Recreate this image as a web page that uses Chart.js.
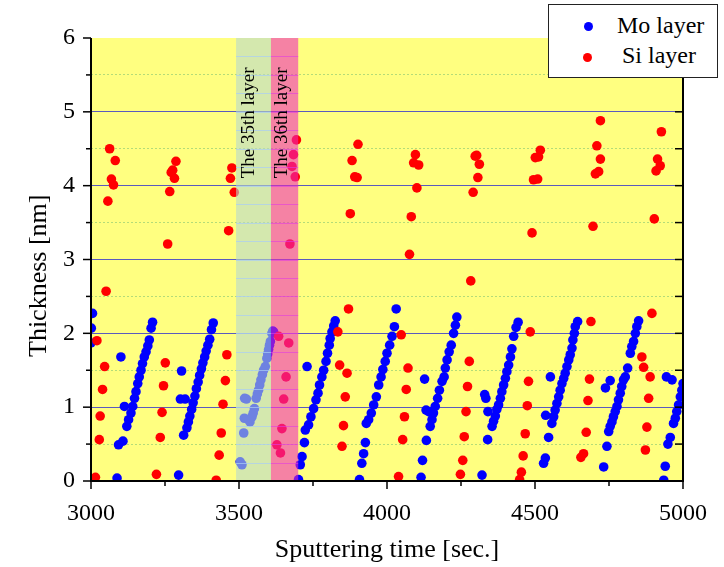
<!DOCTYPE html>
<html>
<head>
<meta charset="utf-8">
<script src="https://cdn.jsdelivr.net/npm/chart.js@4.4.0/dist/chart.umd.min.js"></script>
<style>
  body { margin: 0; background: #fff; }
  #wrap { position: relative; width: 724px; height: 567px; }
  .legend {
    position: absolute; left: 548px; top: 4px; width: 168px; height: 72px;
    border: 1px solid #222; background: #fff;
    font-family: "Liberation Serif", "Times New Roman", serif; font-size: 24px; color: #000;
  }
  .legend .dot { position: absolute; width: 9px; height: 9px; border-radius: 50%; }
  .legend .txt { position: absolute; line-height: 24px; white-space: nowrap; }
</style>
</head>
<body>
<div id="wrap">
  <canvas id="chart" width="724" height="567"></canvas>
  <div class="legend">
    <span class="dot" style="left:35px; top:17px; background:#0000ff;"></span>
    <span class="txt" style="left:68px; top:8px;">Mo layer</span>
    <span class="dot" style="left:34px; top:48px; background:#ff0000;"></span>
    <span class="txt" style="left:73px; top:38px;">Si layer</span>
  </div>
</div>
<script>
// Mo layer points (time [sec.], thickness [nm])
const moTime = [
  3000, 3001, 3005,
  3088, 3093, 3108, 3101, 3113,
  3121, 3127, 3135, 3141, 3147, 3152, 3158, 3163, 3169, 3174, 3180, 3186, 3192, 3197, 3203, 3208,
  3296, 3313, 3302, 3318, 3306,
  3324, 3329, 3334, 3340, 3345, 3351, 3356, 3362, 3367, 3373, 3378, 3384, 3389, 3395, 3401, 3407, 3413,
  3504, 3510, 3516, 3518, 3519, 3525, 3532, 3537, 3544, 3548, 3552, 3558, 3562, 3566, 3570, 3574,
  3579, 3583, 3589, 3594, 3597, 3600, 3603, 3606, 3611, 3614, 3617,
  3701, 3707, 3713, 3721, 3724, 3730,
  3735, 3743, 3752, 3760, 3767, 3772, 3780, 3786, 3794, 3799, 3805, 3808, 3814, 3820, 3825,
  3907, 3915, 3921, 3927, 3930,
  3938, 3947, 3955, 3964, 3972, 3980, 3986, 3994, 4000, 4009, 4017, 4025, 4031,
  4115, 4120, 4133, 4132, 4141, 4127,
  4146, 4152, 4157, 4163, 4171, 4177, 4186, 4193, 4197, 4203, 4210, 4217, 4225, 4231, 4236,
  4321, 4340, 4341, 4330, 4334,
  4355, 4360, 4366, 4371, 4377, 4383, 4388, 4394, 4400, 4405, 4411, 4417, 4422, 4428, 4436, 4443,
  4529, 4535, 4546, 4536, 4552,
  4557, 4563, 4568, 4574, 4580, 4585, 4591, 4597, 4602, 4608, 4614, 4619, 4625, 4628, 4633, 4636, 4644,
  4732, 4743, 4738, 4754,
  4749, 4754, 4760, 4765, 4771, 4777, 4782, 4788, 4793, 4799, 4805, 4813, 4822, 4827, 4833, 4839, 4844, 4850,
  4935, 4940, 4949, 4957, 4944, 4963,
  4968, 4974, 4979, 4985, 4991, 4996, 5000
];
const moThick = [
  1.87, 2.07, 2.27,
  0.04, 0.49, 0.54, 1.68, 1.01,
  0.74, 0.83, 0.92, 1.01, 1.12, 1.21, 1.32, 1.41, 1.50, 1.59, 1.68, 1.75, 1.83, 1.91, 2.07, 2.15,
  0.08, 0.62, 1.11, 1.11, 1.49,
  0.72, 0.80, 0.88, 0.97, 1.06, 1.15, 1.25, 1.34, 1.43, 1.52, 1.60, 1.68, 1.76, 1.84, 1.92, 2.05, 2.14,
  0.26, 0.22, 0.65, 0.85, 1.12, 1.11, 0.83, 0.80, 0.87, 0.92, 0.98, 1.12, 1.18, 1.23, 1.30, 1.37,
  1.44, 1.50, 1.55, 1.66, 1.72, 1.78, 1.84, 1.89, 2.00, 2.03, 2.02,
  0.02, 0.22, 0.33, 0.52, 0.69, 1.55,
  0.76, 0.87, 0.98, 1.10, 1.19, 1.30, 1.41, 1.50, 1.62, 1.73, 1.84, 1.93, 2.02, 2.10, 2.17,
  0.02, 0.24, 0.37, 0.52, 0.78,
  0.83, 0.92, 1.03, 1.14, 1.30, 1.41, 1.51, 1.62, 1.73, 1.84, 1.96, 2.09, 2.33,
  0.05, 0.28, 0.55, 0.96, 0.94, 1.38,
  0.74, 0.83, 0.92, 1.01, 1.12, 1.23, 1.35, 1.41, 1.53, 1.64, 1.75, 1.84, 2.00, 2.11, 2.22,
  0.08, 0.56, 0.94, 1.17, 1.12,
  0.74, 0.81, 0.88, 0.97, 1.03, 1.12, 1.21, 1.30, 1.39, 1.48, 1.57, 1.68, 1.79, 1.96, 2.08, 2.15,
  0.24, 0.31, 0.59, 0.89, 1.41,
  0.78, 0.87, 0.96, 1.05, 1.14, 1.23, 1.32, 1.39, 1.46, 1.55, 1.64, 1.71, 1.80, 1.91, 2.00, 2.09, 2.16,
  0.19, 0.47, 1.26, 1.36,
  0.67, 0.74, 0.80, 0.87, 0.94, 1.01, 1.10, 1.19, 1.28, 1.37, 1.41, 1.53, 1.73, 1.82, 1.89, 2.00, 2.09, 2.17,
  0.01, 0.20, 0.50, 0.59, 1.41, 1.37,
  0.78, 0.85, 0.94, 1.03, 1.14, 1.23, 1.32
];

// Si layer points
const siTime = [
  3015, 3028, 3031, 3039, 3046, 3020, 3051,
  3057, 3069, 3076, 3082, 3063,
  3221, 3234, 3240, 3245, 3251,
  3259, 3266, 3282, 3271, 3276, 3287,
  3423, 3433, 3440, 3446, 3454, 3459,
  3465, 3484, 3471, 3476,
  3628, 3640, 3645, 3651, 3659, 3668, 3634, 3672, 3690, 3679, 3684, 3694,
  3848, 3853, 3859, 3865, 3840, 3834, 3870,
  3876, 3891, 3899, 3882, 3902,
  4039, 4053, 4059, 4065, 4071, 4048,
  4076, 4082, 4101, 4090, 4107, 4096,
  4248, 4256, 4261, 4267, 4272, 4278,
  4283, 4291, 4307, 4312, 4298, 4303,
  4448, 4454, 4460, 4467, 4474, 4478, 4484,
  4490, 4495, 4509, 4501, 4512, 4518,
  4655, 4664, 4673, 4679, 4684, 4689,
  4696, 4704, 4715, 4721, 4709, 4721,
  4873, 4878, 4884, 4889, 4861, 4867, 4895,
  4903, 4909, 4923, 4914, 4927
];
const siThick = [
  0.05, 0.56, 0.88, 1.24, 1.55, 1.90, 2.57,
  3.79, 4.09, 4.01, 4.34, 4.50,
  0.09, 0.59, 0.93, 1.29, 1.60,
  3.21, 3.92, 4.10, 4.18, 4.21, 4.33,
  0.01, 0.35, 0.65, 1.04, 1.36, 1.71,
  3.39, 3.91, 4.10, 4.24,
  0.49, 0.38, 0.71, 1.11, 1.41, 1.87, 1.96, 3.21, 4.12, 4.26, 4.42, 4.62,
  0.47, 0.75, 1.14, 1.46, 1.57, 2.02, 2.33,
  3.62, 4.12, 4.11, 4.34, 4.56,
  0.06, 0.56, 0.87, 1.24, 1.53, 1.98,
  3.07, 3.58, 3.97, 4.31, 4.28, 4.42,
  0.09, 0.28, 0.60, 0.94, 1.28, 1.62,
  2.71, 3.91, 4.11, 4.29, 4.40, 4.41,
  0.02, 0.12, 0.34, 0.64, 1.02, 1.35, 2.02,
  3.36, 4.08, 4.09, 4.38, 4.39, 4.48,
  0.32, 0.37, 0.66, 1.09, 1.38, 2.16,
  3.45, 4.16, 4.19, 4.36, 4.54, 4.88,
  0.42, 0.73, 1.12, 1.41, 1.68, 1.54, 2.27,
  3.55, 4.20, 4.27, 4.36, 4.73
];

const xTickLabels = [3000, 3500, 4000, 4500, 5000];
const yTickLabels = [0, 1, 2, 3, 4, 5, 6];
const bandEdges = [3490, 3608, 3700];
const bandLabels = ['The 35th layer', 'The 36th layer'];
const bandLabelTime = [3551, 3662];

const toPoints = (xs, ys) => xs.map((x, i) => ({ x: x, y: ys[i] }));
const serif = '"Liberation Serif", "Times New Roman", serif';

const decor = {
  id: 'decor',
  beforeDraw(chart) {
    const { ctx, chartArea: a } = chart;
    ctx.save();
    ctx.fillStyle = '#ffff80';
    ctx.fillRect(a.left, a.top, a.right - a.left, a.bottom - a.top);
    ctx.restore();
  },
  afterDatasetsDraw(chart) {
    const { ctx, chartArea: a } = chart;
    const xs = chart.scales.x, ys = chart.scales.y;
    const b0 = xs.getPixelForValue(bandEdges[0]);
    const b1 = xs.getPixelForValue(bandEdges[1]);
    const b2 = xs.getPixelForValue(bandEdges[2]);
    ctx.save();
    ctx.fillStyle = 'rgba(183,217,205,0.6)';
    ctx.fillRect(b0, a.top, b1 - b0, a.bottom - a.top);
    ctx.fillStyle = 'rgba(238,40,190,0.58)';
    ctx.fillRect(b1, a.top, b2 - b1, a.bottom - a.top);
    // faint lines inside the bands
    ctx.lineWidth = 1;
    for (let v = 0.25; v < 6; v += 0.25) {
      const py = Math.round(ys.getPixelForValue(v)) + 0.5;
      ctx.strokeStyle = 'rgba(170,205,245,0.7)';
      ctx.beginPath(); ctx.moveTo(b0, py); ctx.lineTo(b1, py); ctx.stroke();
      ctx.strokeStyle = 'rgba(225,60,225,0.6)';
      ctx.beginPath(); ctx.moveTo(b1, py); ctx.lineTo(b2, py); ctx.stroke();
    }
    // band labels
    ctx.fillStyle = '#000';
    ctx.font = '19px ' + serif;
    ctx.textAlign = 'left';
    ctx.textBaseline = 'alphabetic';
    const yStart = ys.getPixelForValue(4.1);
    bandLabels.forEach((txt, i) => {
      ctx.save();
      ctx.translate(xs.getPixelForValue(bandLabelTime[i]), yStart);
      ctx.rotate(-Math.PI / 2);
      ctx.fillText(txt, 0, 0);
      ctx.restore();
    });
    ctx.restore();
  },
  afterDraw(chart) {
    const { ctx, chartArea: a } = chart;
    const xs = chart.scales.x, ys = chart.scales.y;
    const line = (x1, y1, x2, y2) => { ctx.beginPath(); ctx.moveTo(x1, y1); ctx.lineTo(x2, y2); ctx.stroke(); };
    ctx.save();
    ctx.strokeStyle = '#000';
    ctx.lineWidth = 1.5;
    xs.ticks.forEach(t => {
      const px = xs.getPixelForValue(t.value);
      line(px, a.bottom, px, a.bottom + (xTickLabels.includes(t.value) ? 8 : 5));
    });
    ys.ticks.forEach(t => {
      const py = ys.getPixelForValue(t.value);
      const major = yTickLabels.includes(t.value);
      line(a.left - (major ? 8 : 5), py, a.left, py);
      line(a.right - 8, py, a.right, py);
    });
    ctx.lineWidth = 2;
    line(a.left, a.top, a.left, a.bottom + 1);
    line(a.left - 1, a.bottom, a.right + 1, a.bottom);
    line(a.right, a.top, a.right, a.bottom + 1);
    // axis titles
    ctx.fillStyle = '#000';
    ctx.font = '26px ' + serif;
    ctx.textBaseline = 'alphabetic';
    ctx.textAlign = 'center';
    ctx.fillText('Sputtering time [sec.]', (a.left + a.right) / 2, 557);
    ctx.save();
    ctx.translate(46, 357);
    ctx.rotate(-Math.PI / 2);
    ctx.textAlign = 'left';
    ctx.fillText('Thickness [nm]', 0, 0);
    ctx.restore();
    ctx.restore();
  }
};

new Chart(document.getElementById('chart'), {
  type: 'scatter',
  data: {
    datasets: [
      {
        label: 'Mo layer',
        data: toPoints(moTime, moThick),
        backgroundColor: '#0000ff',
        borderColor: '#0000ff',
        pointRadius: 4.8,
        pointBorderWidth: 0,
        clip: 0,
        order: 2
      },
      {
        label: 'Si layer',
        data: toPoints(siTime, siThick),
        backgroundColor: '#ff0000',
        borderColor: '#ff0000',
        pointRadius: 4.8,
        pointBorderWidth: 0,
        clip: 0,
        order: 1
      }
    ]
  },
  options: {
    responsive: false,
    animation: false,
    events: [],
    layout: { padding: { left: 0, top: 38, right: 41, bottom: 0 } },
    plugins: { legend: { display: false }, tooltip: { enabled: false } },
    scales: {
      x: {
        type: 'linear',
        min: 3000,
        max: 5000,
        afterFit: s => { s.height = 86; },
        grid: { display: false },
        border: { display: false },
        ticks: {
          stepSize: 250,
          autoSkip: false,
          maxRotation: 0,
          padding: 10,
          color: '#000',
          font: { family: serif, size: 24 },
          callback: v => (xTickLabels.includes(v) ? String(v) : '')
        }
      },
      y: {
        min: 0,
        max: 6,
        afterFit: s => { s.width = 91; },
        grid: {
          drawTicks: false,
          lineWidth: 1,
          color: c => {
            const v = c.tick ? c.tick.value : 0;
            if (v <= 0 || v >= 6) return 'rgba(0,0,0,0)';
            return yTickLabels.includes(v) ? '#5a5abe' : '#b4dc78';
          }
        },
        border: {
          display: false,
          dash: c => (c.tick && !yTickLabels.includes(c.tick.value) ? [2, 2] : [])
        },
        ticks: {
          stepSize: 0.5,
          padding: 16,
          color: '#000',
          font: { family: serif, size: 24 },
          callback: v => (yTickLabels.includes(v) ? String(v) : '')
        }
      }
    }
  },
  plugins: [decor]
});
</script>
</body>
</html>
